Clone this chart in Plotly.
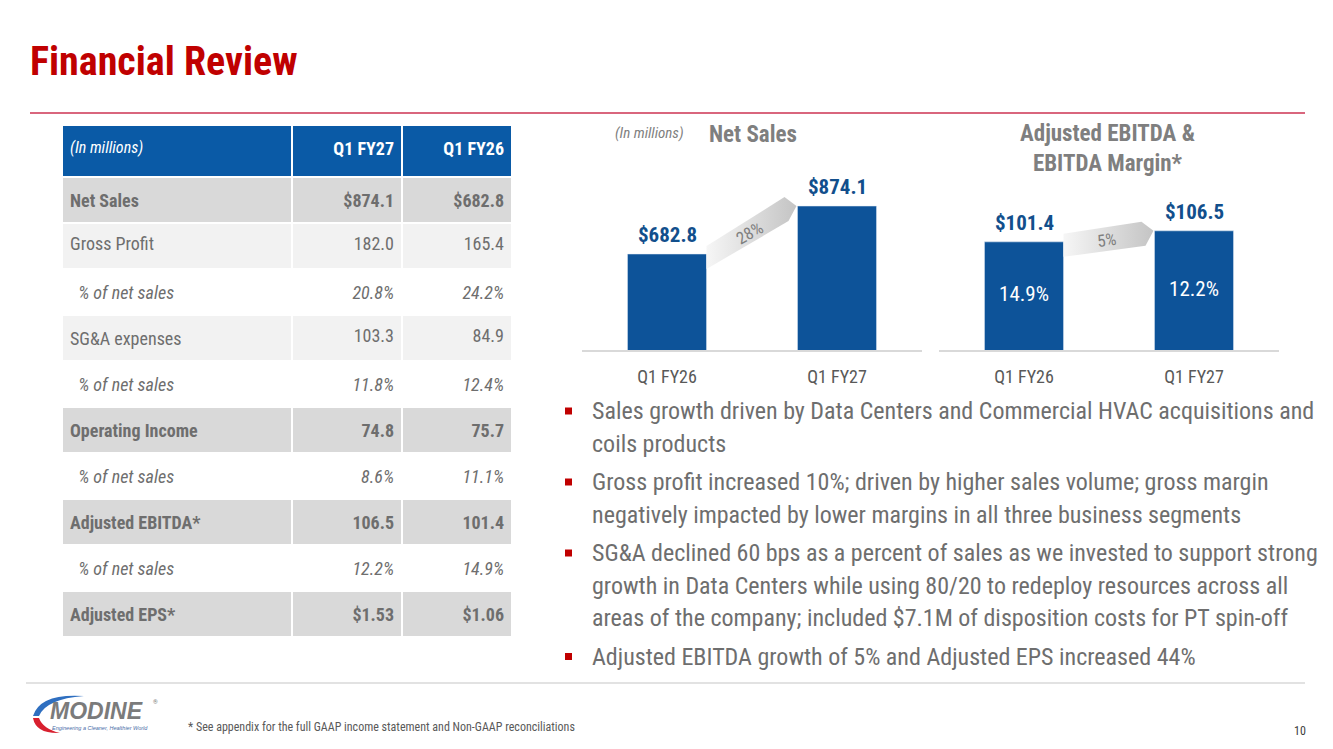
import math
import plotly.graph_objects as go

W, H = 1333, 749
OFF = 8  # page body margin that shifts the figure in the browser
FONT = "Roboto Condensed, Liberation Sans Narrow, Roboto, sans-serif"
GREY = "#6e6e6e"
BLUE = "#0d5399"
RED = "#c00000"

# ---- data ------------------------------------------------------------------
periods = ["Q1 FY26", "Q1 FY27"]
net_sales = [682.8, 874.1]
adj_ebitda = [101.4, 106.5]
ebitda_margin = [14.9, 12.2]

table_header = ["(In millions)", "Q1 FY27", "Q1 FY26"]
row_labels = ["Net Sales", "Gross Profit", "% of net sales", "SG&A expenses", "% of net sales",
              "Operating Income", "% of net sales", "Adjusted EBITDA*", "% of net sales", "Adjusted EPS*"]
col_fy27 = ["$874.1", "182.0", "20.8%", "103.3", "11.8%", "74.8", "8.6%", "106.5", "12.2%", "$1.53"]
col_fy26 = ["$682.8", "165.4", "24.2%", "84.9", "12.4%", "75.7", "11.1%", "101.4", "14.9%", "$1.06"]
row_kind = ["bold", "plain", "pct", "plain", "pct", "bold", "pct", "bold", "pct", "bold"]

bullets = [
    ["Sales growth driven by Data Centers and Commercial HVAC acquisitions and",
     "coils products"],
    ["Gross profit increased 10%; driven by higher sales volume; gross margin",
     "negatively impacted by lower margins in all three business segments"],
    ["SG&A declined 60 bps as a percent of sales as we invested to support strong",
     "growth in Data Centers while using 80/20 to redeploy resources across all",
     "areas of the company; included $7.1M of disposition costs for PT spin-off"],
    ["Adjusted EBITDA growth of 5% and Adjusted EPS increased 44%"],
]
footnote = "* See appendix for the full GAAP income statement and Non-GAAP reconciliations"


def px(x):
    return (x - OFF) / W


def py(y):
    return 1 - (y - OFF) / H


# chart geometry (pixels)
CH_TOP, CH_BASE = 180, 350
NS_X = (582, 922)
EB_X = (939, 1279)
NS_RANGE = [300, 978]
EB_RANGE = [51.4, 130]
BAR_W = 0.465
idx = list(range(len(periods)))

fig = go.Figure()

# ---- table -------------------------------------------------------------------
fills = {"bold": "#d9d9d9", "plain": "#f2f2f2", "pct": "#ffffff"}


def fmt(txt, kind, indent=False):
    if kind == "bold":
        return f"<b>{txt}</b>"
    if kind == "pct":
        pre = "\u00a0\u00a0" if indent else ""
        return f"<i>{pre}{txt}</i>"
    return txt


cell_vals = [
    [fmt(t, k, True) for t, k in zip(row_labels, row_kind)],
    [fmt(t, k) for t, k in zip(col_fy27, row_kind)],
    [fmt(t, k) for t, k in zip(col_fy26, row_kind)],
]
row_fill = [fills[k] for k in row_kind]
TBL_TOP, TBL_BOT, TXT_DY = 125, 638, 5

# background cells
fig.add_trace(go.Table(
    domain=dict(x=[px(62), px(512)], y=[py(TBL_BOT), py(TBL_TOP)]),
    columnwidth=[230, 110, 110],
    header=dict(values=["", "", ""], fill_color="#0a5aa6",
                line=dict(color="white", width=2), height=52),
    cells=dict(values=[[""] * len(row_labels)] * 3, fill_color=[row_fill] * 3,
               line=dict(color="white", width=2), height=46),
))
# text layer, nudged down so the text sits in the middle of each row
fig.add_trace(go.Table(
    domain=dict(x=[px(62), px(512)], y=[py(TBL_BOT + TXT_DY), py(TBL_TOP + TXT_DY)]),
    columnwidth=[230, 110, 110],
    header=dict(
        values=[f"<i>{table_header[0]}</i>", f"<b>{table_header[1]}</b>", f"<b>{table_header[2]}</b>"],
        fill_color="rgba(0,0,0,0)",
        line=dict(color="rgba(0,0,0,0)", width=2),
        font=dict(family=FONT, color="white", size=[16, 18, 18]),
        align=["left", "right", "right"],
        height=52,
    ),
    cells=dict(
        values=cell_vals,
        fill_color="rgba(0,0,0,0)",
        line=dict(color="rgba(0,0,0,0)", width=2),
        font=dict(family=FONT, color=GREY, size=18),
        align=["left", "right", "right"],
        height=46,
    ),
))

# ---- bar charts --------------------------------------------------------------
fig.add_trace(go.Bar(
    x=idx, y=net_sales, xaxis="x", yaxis="y",
    marker_color=BLUE, width=BAR_W, hoverinfo="skip",
))
fig.add_trace(go.Bar(
    x=idx, y=adj_ebitda, xaxis="x2", yaxis="y2",
    marker_color=BLUE, width=BAR_W, hoverinfo="skip",
))
fig.add_trace(go.Scatter(
    x=idx, y=[(EB_RANGE[0] + v) / 2 for v in adj_ebitda], xaxis="x2", yaxis="y2",
    mode="text", text=[f"{m:.1f}%" for m in ebitda_margin],
    textfont=dict(family=FONT, size=21, color="white"), hoverinfo="skip",
))

# value labels above the bars
for xa, ya, vals in (("x", "y", net_sales), ("x2", "y2", adj_ebitda)):
    for i, v in zip(idx, vals):
        fig.add_annotation(
            x=i, y=v, xref=xa, yref=ya, text=f"<b>${v:.1f}</b>", showarrow=False,
            yanchor="bottom", yshift=5,
            font=dict(family=FONT, size=21, color="#124f8c"),
        )


def growth_arrow(vals, yrange, xa, ya):
    upx = 2 / (NS_X[1] - NS_X[0])
    upy = (yrange[1] - yrange[0]) / (CH_BASE - CH_TOP)
    v0, v1 = vals
    xl, xr = BAR_W / 2, 1 - BAR_W / 2
    xs = [xl, xr - 13 * upx, xr - 1 * upx, xr - 9 * upx, xl, xl]
    ys = [v0 + 8 * upy, v1 + 9 * upy, v1, v1 - 15 * upy, v0 - 15 * upy, v0 + 8 * upy]
    fig.add_trace(go.Scatter(
        x=xs, y=ys, xaxis=xa, yaxis=ya, mode="lines", fill="toself",
        line=dict(width=0, color="rgba(0,0,0,0)"),
        fillgradient=dict(type="horizontal", colorscale=[[0, "#f6f6f6"], [1, "#c4c4c4"]]),
        hoverinfo="skip",
    ))
    ly, ry = v0 - 3.5 * upy, v1 - 3 * upy
    rx = xr - 5 * upx
    ang = -math.degrees(math.atan2((ry - ly) / upy, (rx - xl) / upx))
    fig.add_annotation(
        x=(xl + rx) / 2, y=(ly + ry) / 2, xref=xa, yref=ya,
        text=f"{(v1 / v0 - 1) * 100:.0f}%", showarrow=False, textangle=ang,
        font=dict(family=FONT, size=17, color="#808080"),
    )


axis_x = dict(range=[-0.5, 1.5], tickvals=idx, ticktext=periods, showline=True, linecolor="#d9d9d9",
              linewidth=2, showgrid=False, zeroline=False, ticks="outside", ticklen=9,
              tickcolor="rgba(0,0,0,0)", tickfont=dict(family=FONT, size=18, color="#595959"),
              fixedrange=True)
axis_y = dict(visible=False, showgrid=False, zeroline=False, fixedrange=True,
              domain=[py(CH_BASE), py(CH_TOP)])

fig.update_layout(
    xaxis=dict(axis_x, domain=[px(NS_X[0]), px(NS_X[1])], anchor="y"),
    yaxis=dict(axis_y, range=NS_RANGE, anchor="x"),
    xaxis2=dict(axis_x, domain=[px(EB_X[0]), px(EB_X[1])], anchor="y2"),
    yaxis2=dict(axis_y, range=EB_RANGE, anchor="x2"),
)

growth_arrow(net_sales, NS_RANGE, "x", "y")
growth_arrow(adj_ebitda, EB_RANGE, "x2", "y2")

# ---- slide text ----------------------------------------------------------------
ann = list(fig.layout.annotations)


def text(x, y, s, size, color=GREY, xanchor="left", **kw):
    ann.append(dict(x=px(x), y=py(y), xref="paper", yref="paper", text=s, showarrow=False,
                    xanchor=xanchor, yanchor="middle",
                    font=dict(family=kw.pop("family", FONT), size=size, color=color), **kw))


text(28, 62, "<b>Financial Review</b>", 40, RED)
text(649, 133, "<i>(In millions)</i>", 15, "#7f7f7f", "center")
text(753, 134, "<b>Net Sales</b>", 23, "#7f7f7f", "center")
text(1107, 148, "<b>Adjusted EBITDA &<br>EBITDA Margin*</b>", 23, "#7f7f7f", "center")

shapes = []
y = 411
for lines in bullets:
    shapes.append(dict(type="rect", xref="paper", yref="paper", x0=px(565), x1=px(572),
                       y0=py(y + 3.5), y1=py(y - 3.5), fillcolor=RED, line_width=0))
    for i, line in enumerate(lines):
        text(590, y, line, 24, GREY)
        y += 32.5
    y += 6

text(186, 727, footnote, 12, "#595959")
text(1300, 731, "10", 12, "#404040", "center")

# logo
text(97, 711, "<b><i>MODINE</i></b>", 23, "#7b7b7b", "center", family="Liberation Sans, Arial, sans-serif")
text(100, 728, "<i>Engineering a Cleaner, Healthier World</i>", 5.5, "#4a6da8", "center",
     family="Liberation Sans, Arial, sans-serif")
text(155, 701, "®", 6, "#7b7b7b", "center")


def path(cmds):
    out = []
    for c in cmds:
        if isinstance(c, str):
            out.append(c)
        else:
            out.append(f"{px(c[0]):.5f},{py(c[1]):.5f}")
    return " ".join(out)


shapes.append(dict(type="path", xref="paper", yref="paper", line_width=0, fillcolor="#2f6fc0",
                   path=path(["M", (33, 716), "Q", (40, 693), (84, 696), "Q", (46, 699), (39, 716), "Z"])))
shapes.append(dict(type="path", xref="paper", yref="paper", line_width=0, fillcolor="#d8202f",
                   path=path(["M", (33, 718), "Q", (36, 734), (60, 733), "Q", (43, 729), (39, 718), "Z"])))

# rules
shapes.append(dict(type="line", xref="paper", yref="paper", x0=px(30), x1=px(1305),
                   y0=py(113), y1=py(113), line=dict(color="#cc3352", width=1.3)))
shapes.append(dict(type="line", xref="paper", yref="paper", x0=px(26), x1=px(1305),
                   y0=py(683), y1=py(683), line=dict(color="#d9d9d9", width=1.5)))

fig.update_layout(
    width=W, height=H, margin=dict(l=0, r=0, t=0, b=0),
    paper_bgcolor="white", plot_bgcolor="white", showlegend=False,
    font=dict(family=FONT, color=GREY),
    annotations=ann, shapes=shapes,
)

fig.write_html("out.html")
